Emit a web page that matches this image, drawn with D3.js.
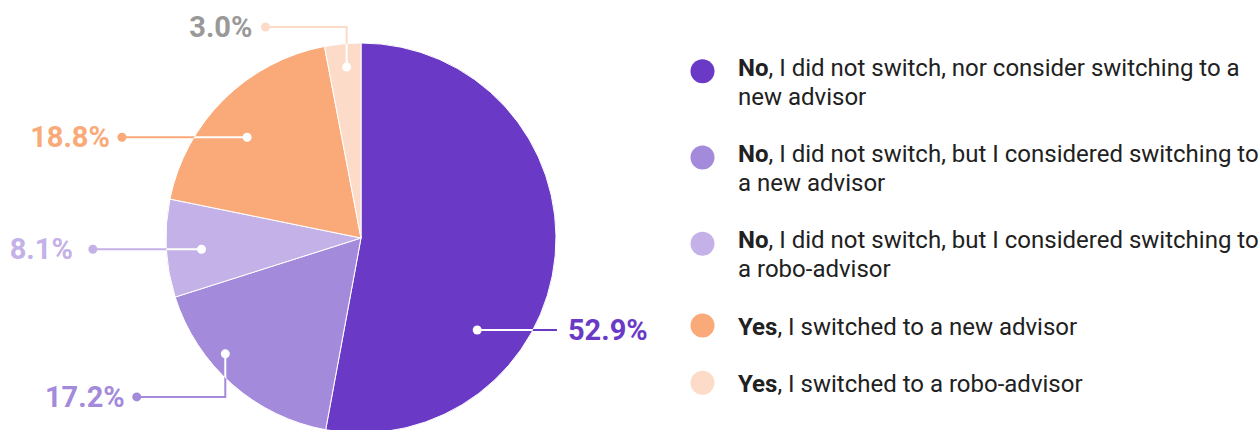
<!DOCTYPE html>
<html>
<head>
<meta charset="utf-8">
<script src="https://cdn.jsdelivr.net/npm/d3@7/dist/d3.min.js"></script>
<style>
  html, body { margin: 0; padding: 0; background: #ffffff; }
  svg { display: block; font-family: Roboto, "Noto Sans", sans-serif; }
</style>
</head>
<body>
<svg id="chart" width="1260" height="430"></svg>
<script>
// Survey answers, in drawing order (clockwise from 12 o'clock)
const leadWords = ["No", "No", "No", "Yes", "Yes"];
const answerText = [
  ", I did not switch, nor consider switching to a\nnew advisor",
  ", I did not switch, but I considered switching to\na new advisor",
  ", I did not switch, but I considered switching to\na robo-advisor",
  ", I switched to a new advisor",
  ", I switched to a robo-advisor"
];
const shares = [52.9, 17.2, 8.1, 18.8, 3.0];
const sliceColors = ["#6a3ac7", "#a38ada", "#c4b1e8", "#f9aa78", "#fcdcc8"];
const valueColors = ["#6a3ac7", "#a38ada", "#c4b1e8", "#f9aa78", "#999999"];

// Callout routing per slice: where the inner dot sits (fraction of the slice
// angle, fraction of the radius) and where the leader line ends, in radius units.
const callouts = [
  { at: 0.674, rr: 0.76,  route: "h",  ex: 1.005,             endDot: false, gap: 11 },
  { at: 0.631, rr: 0.915, route: "vh", ey: 0.815, ex: -1.15,  endDot: true,  gap: 12 },
  { at: 0.467, rr: 0.82,  route: "h",  ex: -1.375,            endDot: true,  gap: 20 },
  { at: 0.443, rr: 0.78,  route: "h",  ex: -1.226,            endDot: true,  gap: 12 },
  { at: 0.556, rr: 0.88,  route: "vh", ey: -1.082, ex: -0.49, endDot: true,  gap: 13 }
];

const svg = d3.select("#chart");
const cx = 361, cy = 238, R = 195;

const pie = d3.pie().sort(null).value(d => d);
const arcs = pie(shares);
const arc = d3.arc().innerRadius(0).outerRadius(R);

const defs = svg.append("defs");
defs.append("clipPath").attr("id", "pieClip")
  .append("circle").attr("cx", cx).attr("cy", cy).attr("r", R);

const gPie = svg.append("g").attr("transform", `translate(${cx},${cy})`);
gPie.selectAll("path.slice")
  .data(arcs)
  .join("path")
  .attr("class", "slice")
  .attr("d", arc)
  .attr("fill", (d, i) => sliceColors[i])
  .attr("stroke", "#ffffff")
  .attr("stroke-width", 1);

// Leader lines: coloured outside the pie, white where they cross a slice
const fmt = d3.format(".1f");
const gCall = svg.append("g");
arcs.forEach((d, i) => {
  const c = callouts[i];
  const a = d.startAngle + c.at * (d.endAngle - d.startAngle);
  const p0 = [cx + c.rr * R * Math.sin(a), cy - c.rr * R * Math.cos(a)];
  let pts;
  if (c.route === "h") {
    pts = [p0, [cx + c.ex * R, p0[1]]];
  } else {
    const yk = cy + c.ey * R;
    pts = [p0, [p0[0], yk], [cx + c.ex * R, yk]];
  }
  const line = d3.line();
  gCall.append("path")
    .attr("d", line(pts))
    .attr("fill", "none")
    .attr("stroke", sliceColors[i])
    .attr("stroke-width", 2);
  gCall.append("path")
    .attr("d", line(pts))
    .attr("fill", "none")
    .attr("stroke", "#ffffff")
    .attr("stroke-width", 2)
    .attr("clip-path", "url(#pieClip)");
  gCall.append("circle")
    .attr("cx", p0[0]).attr("cy", p0[1]).attr("r", 4.5)
    .attr("fill", "#ffffff");
  const end = pts[pts.length - 1];
  if (c.endDot) {
    gCall.append("circle")
      .attr("cx", end[0]).attr("cy", end[1]).attr("r", 4.5)
      .attr("fill", sliceColors[i]);
  }
  const toRight = end[0] > p0[0];
  gCall.append("text")
    .attr("x", toRight ? end[0] + c.gap : end[0] - c.gap)
    .attr("y", end[1] + 10)
    .attr("text-anchor", toRight ? "start" : "end")
    .attr("font-size", 29)
    .attr("font-weight", 700)
    .attr("fill", valueColors[i])
    .text(fmt(shares[i]) + "%");
});

// Legend
const gLeg = svg.append("g");
const lineH = 29, rowGap = 28.2;
let baseline = 76;
leadWords.forEach((lead, i) => {
  const lines = answerText[i].split("\n");
  const n = lines.length;
  gLeg.append("circle")
    .attr("cx", 702.5)
    .attr("cy", baseline - (n > 1 ? 4.7 : 9))
    .attr("r", 12)
    .attr("fill", sliceColors[i]);
  const t = gLeg.append("text")
    .attr("x", 738)
    .attr("y", baseline)
    .attr("font-size", 24)
    .attr("fill", "#212121");
  lines.forEach((ln, k) => {
    if (k === 0) {
      t.append("tspan").attr("font-weight", 700).text(lead);
      t.append("tspan").text(ln);
    } else {
      t.append("tspan").attr("x", 738).attr("dy", lineH).text(ln);
    }
  });
  baseline += n * lineH + rowGap;
});
</script>
</body>
</html>
